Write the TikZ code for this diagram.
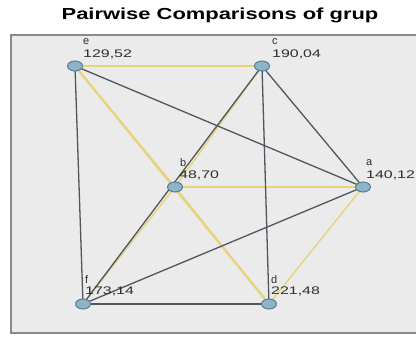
\documentclass[tikz,border=0pt]{standalone}
\usepackage{fontspec}
\setmainfont{Liberation Sans}
\usetikzlibrary{shapes.geometric,calc}
\definecolor{yel}{HTML}{E6D37A}
\definecolor{dk}{HTML}{4F565E}
\definecolor{nfill}{HTML}{8DB4C9}
\definecolor{nbord}{HTML}{5B7C8F}
\definecolor{bg}{HTML}{EBEBEB}
\definecolor{bord}{HTML}{8A8A8A}
\definecolor{txt}{HTML}{2E2E2E}
\begin{document}
\begin{tikzpicture}[x=1pt,y=-1pt,
  grp/.style={ellipse, draw=nbord, fill=nfill, line width=1pt, minimum width=15pt, minimum height=10pt, inner sep=0pt},
  sig/.style={draw=yel, line width=1.4pt},
  nsig/.style={draw=dk, line width=1.3pt},
  lbl/.style={anchor=west, inner sep=0pt, text=txt, font=\fontsize{11}{12}\selectfont}
]
\useasboundingbox (0,0) rectangle (416,338);
% panel
\fill[bg] (11,35) rectangle (416,333);
\draw[bord, line width=1.6pt] (416,35) -- (11,35) -- (11,333) -- (416,333);
% title
\node[font=\bfseries\fontsize{16}{18}\selectfont, text=black] (title) at (220,15) {\scalebox{1.37}[1]{Pairwise Comparisons of grup}};
% nodes
\coordinate (pe) at (75,66);
\coordinate (pc) at (262,66);
\coordinate (pa) at (363,187);
\coordinate (pb) at (175,187);
\coordinate (pf) at (83,304);
\coordinate (pd) at (269,304);
% edges (yellow first)
\draw[sig] (pe) -- (pc);
\draw[sig, line width=2.2pt] (pe) -- (pd);
\draw[sig] (pe) -- (pb);
\draw[sig] (pb) -- (pd);
\draw[sig] (pc) -- (pb);
\draw[sig] (pb) -- (pf);
\draw[sig] (pb) -- (pa);
\draw[sig] (pa) -- (pd);
\draw[nsig] (pe) -- (pa);
\draw[nsig] (pe) -- (pf);
\draw[nsig] (pc) -- (pa);
\draw[nsig] (pc) -- (pd);
\draw[nsig] (pc) -- (pf);
\draw[nsig] (pa) -- (pf);
\draw[nsig] (pf) -- (pd);
\node[grp] (e) at (pe) {};
\node[grp] (c) at (pc) {};
\node[grp] (a) at (pa) {};
\node[grp] (b) at (pb) {};
\node[grp] (f) at (pf) {};
\node[grp] (d) at (pd) {};
% labels
\node[lbl] (el) at ($(pe)+(8,-24)$) {e};
\node[lbl] (en) at ($(pe)+(8,-12)$) {\scalebox{1.45}[1]{129,52}};
\node[lbl] (cl) at ($(pc)+(10,-24)$) {c};
\node[lbl] (cn) at ($(pc)+(10,-12)$) {\scalebox{1.45}[1]{190,04}};
\node[lbl] (al) at ($(pa)+(3,-24)$) {a};
\node[lbl] (an) at ($(pa)+(3,-12)$) {\scalebox{1.45}[1]{140,12}};
\node[lbl] (bl) at ($(pb)+(5,-24)$) {b};
\node[lbl] (bn) at ($(pb)+(4,-12)$) {\scalebox{1.45}[1]{48,70}};
\node[lbl] (fl) at ($(pf)+(2,-24)$) {f};
\node[lbl] (fn) at ($(pf)+(2,-13)$) {\scalebox{1.45}[1]{173,14}};
\node[lbl] (dl) at ($(pd)+(2,-24)$) {d};
\node[lbl] (dn) at ($(pd)+(2,-13)$) {\scalebox{1.45}[1]{221,48}};
\end{tikzpicture}
\end{document}
